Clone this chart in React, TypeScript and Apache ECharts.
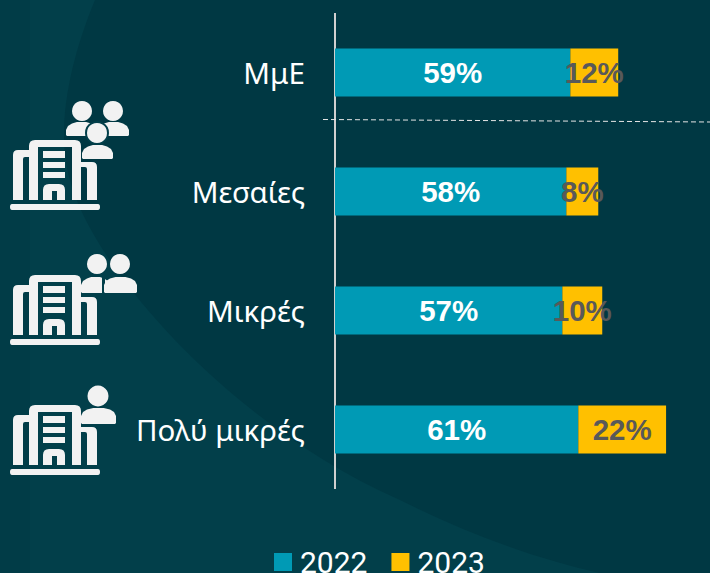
import React, { useEffect, useRef } from "react";
import * as echarts from "echarts";

const categories = ["ΜμΕ", "Μεσαίες", "Μικρές", "Πολύ μικρές"];
const series2022 = [59, 58, 57, 61];
const series2023 = [12, 8, 10, 22];
const seriesNames = ["2022", "2023"];

const INK = "#f2f2f2";
const BG = "#003843";
const BG_LIGHT = "#023f4a";
const BG_BAND = "#013c47";

const buildingD =
  "M13 200V155Q13 150 18 150H29V157H25Q23 157 23 159V200H13Z" +
  "M29 200V146Q29 140 35 140H75Q81 140 81 146V200H72V147H38V200Z" +
  "M81 162H92Q97 162 97 167V200H87V169Q87 167 85 167H81Z" +
  "M43 151H65V158H43Z M43 162H65V168H43Z M43 172H65V178H43Z" +
  "M43 200V190Q43 184 49 184H59Q65 184 65 190V200H57V191H52V200Z" +
  "M12 204H98Q100 204 100 207Q100 210 98 210H12Q10 210 10 207Q10 204 12 204Z";

const curveD = "M95 0C70 60 55 130 70 180C90 260 220 420 400 500C470 535 540 560 600 573H0V0Z";

echarts.graphic.registerShape("building", echarts.graphic.extendPath(buildingD, {}));
echarts.graphic.registerShape("bgCurve", echarts.graphic.extendPath(curveD, {}));

const shoulder = (x1: number, x2: number, y1: number, y2: number) => ({
  type: "polygon",
  shape: {
    points: [
      [x1, y2 - 1],
      [x1, y1 + 8],
      [x1 + 2, y1 + 4],
      [x1 + 6, y1 + 1.5],
      [x1 + (x2 - x1) * 0.35, y1],
      [x1 + (x2 - x1) * 0.65, y1],
      [x2 - 6, y1 + 1.5],
      [x2 - 2, y1 + 4],
      [x2, y1 + 8],
      [x2, y2 - 1],
      [x2 - 1, y2],
      [x1 + 1, y2],
    ],
  },
  style: { fill: INK },
});
const head = (cx: number, cy: number, r: number, ring = false) => ({
  type: "circle",
  shape: { cx, cy, r },
  style: ring ? { fill: INK, stroke: BG_LIGHT, lineWidth: 2 } : { fill: INK },
});

const icons = [
  { type: "group", z: 5, children: [
    { type: "building", x: 0, y: 0, style: { fill: INK } },
    head(82, 111, 10), head(113, 111, 10),
    shoulder(66, 97, 122, 136), shoulder(98, 129, 122, 136),
    head(97, 133, 11, true),
    shoulder(82, 113, 145, 159),
  ] },
  { type: "group", z: 5, children: [
    { type: "building", x: 0, y: 135, style: { fill: INK } },
    head(97, 264, 10), shoulder(81, 110, 277, 293),
    { type: "rect", shape: { x: 102, y: 274, width: 3, height: 21 }, style: { fill: BG_LIGHT } },
    head(120, 264, 10), shoulder(104, 137, 277, 293),
  ] },
  { type: "group", z: 5, children: [
    { type: "building", x: 0, y: 265, style: { fill: INK } },
    head(98, 396, 10.5), shoulder(81, 116, 408, 424),
  ] },
];

const option = {
  animation: false,
  backgroundColor: BG,
  graphic: [
    { type: "bgCurve", z: -10, silent: true, style: { fill: BG_LIGHT } },
    { type: "rect", z: -9, silent: true, shape: { x: 0, y: 0, width: 30, height: 573 }, style: { fill: BG_BAND } },
    { type: "line", z: 5, silent: true, shape: { x1: 323, y1: 119.5, x2: 710, y2: 122 },
      style: { stroke: "#e6e6e6", lineWidth: 1, lineDash: [5, 3] } },
    ...icons,
  ],
  grid: { left: 335, top: 13, width: 359, height: 476 },
  legend: {
    left: 269, top: 542, itemWidth: 18, itemHeight: 18, itemGap: 24,
    icon: "rect", data: seriesNames,
    textStyle: { color: "#ffffff", fontSize: 30, fontFamily: "Roboto", padding: [0, 0, 0, 3] },
  },
  xAxis: { type: "value", min: 0, max: 90, show: false },
  yAxis: {
    type: "category", inverse: true, data: categories, offset: 1,
    axisLine: { show: true, lineStyle: { color: "#d0d0d0", width: 2, cap: "butt" } },
    axisTick: { show: false },
    axisLabel: { color: "#ffffff", fontSize: 29.5, fontFamily: "Noto Sans", margin: 29, padding: [0, 0, 4, 0] },
  },
  series: [
    {
      name: seriesNames[0], type: "bar", stack: "a", barWidth: 48, data: series2022,
      itemStyle: { color: "#009ab5" },
      label: { show: true, position: "inside", formatter: "{c}%", color: "#ffffff",
        fontSize: 29.5, fontWeight: "bold", fontFamily: "Liberation Sans" },
    },
    {
      name: seriesNames[1], type: "bar", stack: "a", barWidth: 48, data: series2023,
      itemStyle: { color: "#ffc000" },
      label: { show: true, position: "inside", formatter: "{c}%", color: "#595959",
        fontSize: 29.5, fontWeight: "bold", fontFamily: "Liberation Sans" },
    },
  ],
};

export default function App() {
  const ref = useRef<HTMLDivElement>(null);
  useEffect(() => {
    const chart = echarts.init(ref.current!, null, { renderer: "svg" });
    chart.setOption(option as any);
    return () => chart.dispose();
  }, []);
  return <div ref={ref} style={{ position: "fixed", left: 0, top: 0, width: 710, height: 573 }} />;
}
